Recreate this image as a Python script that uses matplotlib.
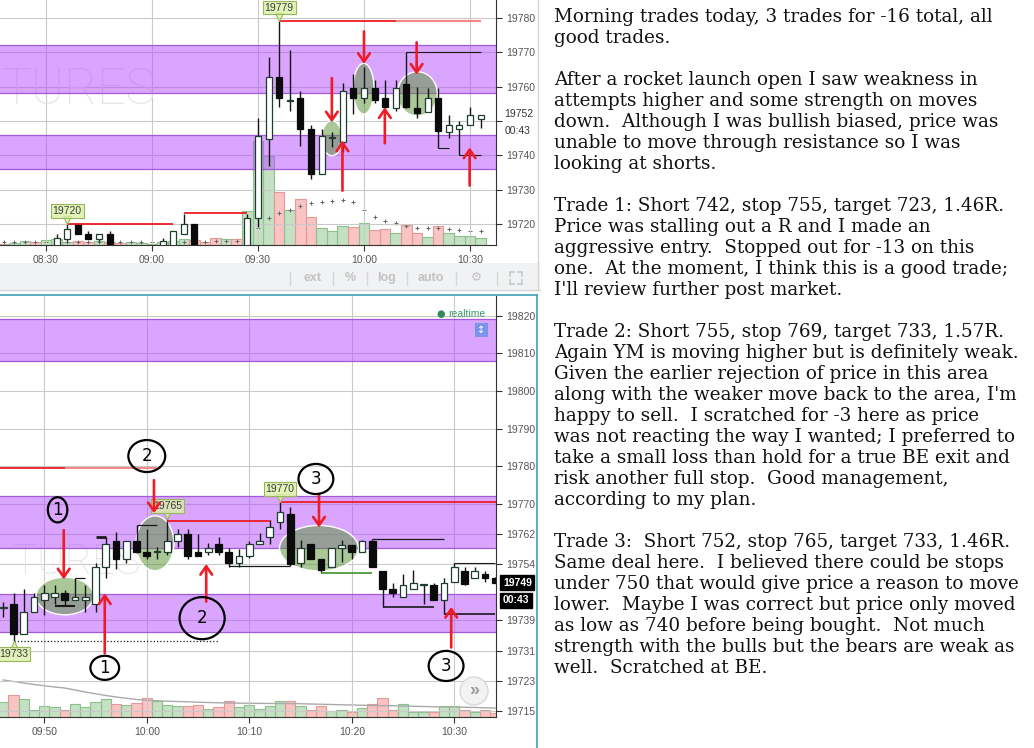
import matplotlib
matplotlib.use("Agg")
import matplotlib.pyplot as plt
import numpy as np
from matplotlib import transforms
from matplotlib.lines import Line2D
from matplotlib.patches import Ellipse, Rectangle

plt.rcParams["font.family"] = ["Liberation Sans", "DejaVu Sans"]

# ---------------- values ----------------
# top chart: 3 min bars (only the ones inside the visible price range)
top_times = ["08:33", "08:36", "08:39", "08:42", "08:45", "08:48", "09:03", "09:06", "09:09", "09:12", "09:27",
             "09:30", "09:33", "09:36", "09:39", "09:42", "09:45", "09:48", "09:51", "09:54", "09:57",
             "10:00", "10:03", "10:06", "10:09", "10:12", "10:15", "10:18", "10:21", "10:24", "10:27", "10:30", "10:33"]
top_open = [19712.0, 19715.7, 19719.9, 19717.0, 19715.7, 19717.0, 19713.0, 19712.0, 19717.0, 19720.0, 19712.0,
            19721.7, 19744.8, 19762.8, 19755.9, 19756.7, 19747.7, 19734.6, 19745.0, 19744.0, 19759.6,
            19756.7, 19759.6, 19756.7, 19753.8, 19760.9, 19753.8, 19752.5, 19756.7, 19746.7, 19747.7, 19748.8, 19750.6]
top_high = [19717.0, 19720.0, 19720.0, 19718.0, 19717.0, 19718.0, 19716.0, 19718.0, 19723.0, 19720.0, 19723.0,
            19750.9, 19768.7, 19779.0, 19770.7, 19758.8, 19748.9, 19747.7, 19746.7, 19761.0, 19763.8,
            19765.8, 19761.8, 19761.8, 19761.8, 19770.1, 19759.8, 19759.6, 19759.6, 19751.8, 19749.9, 19754.0, 19751.8]
top_low = [19711.0, 19715.1, 19717.0, 19715.7, 19715.1, 19711.0, 19712.0, 19711.0, 19717.0, 19711.0, 19711.0,
           19719.0, 19736.8, 19754.0, 19752.8, 19742.8, 19733.1, 19734.6, 19742.3, 19740.9, 19752.1,
           19755.1, 19755.2, 19753.9, 19753.0, 19753.8, 19751.0, 19752.5, 19742.1, 19745.0, 19740.0, 19748.8, 19748.0]
top_close = [19715.8, 19718.6, 19717.0, 19715.7, 19717.0, 19712.0, 19714.9, 19718.0, 19720.0, 19712.0, 19721.7,
             19745.7, 19762.8, 19756.7, 19756.1, 19747.7, 19734.6, 19745.7, 19745.2, 19758.8, 19756.8,
             19759.7, 19756.0, 19754.1, 19759.7, 19754.1, 19752.2, 19756.8, 19747.0, 19748.8, 19748.8, 19751.8, 19751.8]

top_vol_times = ["08:18", "08:21", "08:24", "08:27", "08:30", "08:33", "08:36", "08:39", "08:42", "08:45", "08:48",
                 "08:51", "08:54", "08:57", "09:00", "09:03", "09:06", "09:09", "09:12", "09:15", "09:18", "09:21",
                 "09:24", "09:27", "09:30", "09:33", "09:36", "09:39", "09:42", "09:45", "09:48", "09:51", "09:54",
                 "09:57", "10:00", "10:03", "10:06", "10:09", "10:12", "10:15", "10:18", "10:21", "10:24", "10:27",
                 "10:30", "10:33"]
top_vol = [30, 90, 160, 130, 200, 230, 130, 170, 130, 170, 130,
           70, 110, 90, 40, 110, 150, 240, 200, 130, 280, 240,
           230, 1360, 4160, 3560, 2120, 1400, 1840, 1120, 680, 560, 760,
           720, 880, 600, 640, 480, 800, 480, 320, 760, 480, 360,
           360, 280]
top_vol_up = [0, 1, 1, 0, 1, 1, 1, 0, 0, 1, 0,
              0, 1, 1, 1, 1, 1, 1, 0, 0, 0, 1,
              0, 1, 1, 1, 0, 1, 0, 0, 1, 1, 1,
              0, 1, 0, 0, 1, 0, 0, 1, 0, 1, 1,
              1, 1]
top_vol_ma = [110, 110, 120, 120, 130, 130, 130, 140, 140, 140, 140,
              130, 130, 130, 120, 120, 130, 140, 140, 140, 150, 160,
              160, 330, 690, 1070, 1270, 1400, 1560, 1690, 1730, 1760, 1800,
              1730, 1400, 1110, 960, 890, 760, 690, 670, 670, 630, 600,
              570, 560]

# bottom chart: 1 min bars
bot_times = ["09:46", "09:47", "09:48", "09:49", "09:50", "09:51", "09:52", "09:53", "09:54", "09:55", "09:56",
             "09:57", "09:58", "09:59", "10:00", "10:01", "10:02", "10:03", "10:04", "10:05", "10:06", "10:07",
             "10:08", "10:09", "10:10", "10:11", "10:12", "10:13", "10:14", "10:15", "10:16", "10:17", "10:18",
             "10:19", "10:20", "10:21", "10:22", "10:23", "10:24", "10:25", "10:26", "10:27", "10:28", "10:29",
             "10:30", "10:31", "10:32", "10:33", "10:34"]
bot_open = [19742.2, 19743.3, 19735.4, 19741.2, 19744.4, 19745.3, 19746.2, 19744.4, 19744.4, 19743.3, 19753.1,
            19760.2, 19755.2, 19760.2, 19757.1, 19757.1, 19757.1, 19760.2, 19762.1, 19757.1, 19757.1, 19759.2,
            19757.1, 19754.2, 19756.2, 19759.2, 19761.1, 19765.1, 19767.2, 19754.2, 19759.2, 19755.2, 19753.1,
            19758.2, 19759.0, 19757.1, 19760.2, 19752.2, 19747.3, 19745.1, 19747.3, 19748.4, 19748.4, 19744.4,
            19749.1, 19752.2, 19750.2, 19751.3, 19750.2]
bot_high = [19744.0, 19746.2, 19747.3, 19746.4, 19748.4, 19748.4, 19747.2, 19750.4, 19748.4, 19754.3, 19761.3,
            19762.5, 19760.2, 19764.3, 19763.4, 19758.6, 19765.9, 19763.2, 19763.2, 19762.1, 19759.7, 19761.2,
            19758.2, 19758.0, 19760.2, 19762.3, 19765.7, 19770.4, 19769.1, 19760.4, 19759.2, 19755.2, 19758.2,
            19760.4, 19759.0, 19760.4, 19760.6, 19752.2, 19749.0, 19751.3, 19752.3, 19748.8, 19749.0, 19750.2,
            19754.3, 19753.1, 19753.1, 19752.2, 19750.6]
bot_low = [19740.0, 19733.6, 19735.4, 19741.2, 19740.4, 19743.5, 19742.8, 19744.4, 19741.3, 19741.3, 19750.3,
           19752.8, 19754.3, 19757.0, 19755.2, 19755.4, 19756.5, 19758.6, 19755.2, 19756.2, 19756.4, 19756.4,
           19753.3, 19753.3, 19755.5, 19759.2, 19759.3, 19763.3, 19753.5, 19753.3, 19755.2, 19751.5, 19753.1,
           19754.6, 19755.4, 19757.1, 19753.1, 19742.6, 19745.3, 19745.1, 19747.3, 19743.5, 19744.4, 19740.7,
           19749.1, 19748.4, 19750.2, 19749.3, 19749.0]
bot_close = [19742.2, 19735.4, 19741.2, 19745.1, 19746.2, 19746.2, 19744.4, 19745.1, 19745.1, 19753.3, 19759.2,
             19755.2, 19760.2, 19757.1, 19756.2, 19757.1, 19760.2, 19762.1, 19756.2, 19756.2, 19758.2, 19757.1,
             19754.2, 19756.2, 19759.2, 19760.2, 19763.9, 19767.9, 19754.0, 19758.2, 19755.2, 19752.4, 19758.2,
             19759.0, 19757.1, 19760.2, 19753.1, 19747.3, 19746.2, 19748.4, 19749.0, 19748.4, 19744.4, 19749.0,
             19753.1, 19748.8, 19752.2, 19750.2, 19749.0]
bot_vol = [590, 890, 720, 270, 450, 400, 270, 530, 400, 590, 720,
           530, 490, 560, 760, 630, 490, 450, 430, 490, 320, 400,
           650, 420, 490, 320, 450, 650, 650, 430, 270, 430, 230,
           290, 200, 360, 520, 760, 290, 530, 200, 200, 200, 450,
           450, 270, 200, 270, 160]
bot_vol_up = [1, 0, 1, 1, 1, 1, 0, 1, 1, 1, 1,
              0, 1, 0, 0, 1, 1, 1, 0, 0, 1, 0,
              0, 1, 1, 1, 1, 1, 0, 1, 0, 0, 1,
              1, 0, 1, 0, 0, 0, 1, 1, 1, 0, 1,
              1, 0, 1, 0, 0]
bot_vol_ma = [1480, 1420, 1360, 1300, 1250, 1200, 1160, 1080, 1000, 930, 860,
              800, 750, 700, 670, 650, 630, 620, 610, 590, 580, 570,
              560, 555, 550, 545, 540, 540, 535, 530, 520, 510, 500,
              490, 480, 470, 460, 455, 450, 440, 430, 420, 410, 400,
              395, 390, 380, 370, 360]

# purple supply / demand zones
band_lo = [19736.0, 19758.2, 19808.0]
band_hi = [19746.0, 19772.2, 19819.0]

# axis ticks
top_xticks = ["08:30", "09:00", "09:30", "10:00", "10:30"]
top_yticks = [19720, 19730, 19740, 19750, 19760, 19770, 19780]
top_ylabels = ["19720", "19730", "19740", "", "19760", "19770", "19780"]
bot_xticks = ["09:50", "10:00", "10:10", "10:20", "10:30"]
bot_yticks = [19715, 19723, 19731, 19739, 19754, 19762, 19770, 19780, 19790, 19800, 19810, 19820]

# drawn levels: start, end, price, colour, width, style
top_levels = [("08:36", "09:06", 19720.0, "red", 1.3, "-"),
              ("09:09", "09:27", 19723.3, "red", 1.3, "-"),
              ("09:36", "10:09", 19779.2, "red", 1.3, "-"),
              ("10:09", "10:33", 19779.2, "pink", 1.5, "-"),
              ("10:12", "10:33", 19770.0, "black", 0.8, "-"),
              ("10:21", "10:24", 19742.1, "black", 0.8, "-"),
              ("10:27", "10:33", 19740.0, "black", 0.8, "-")]
bot_levels = [("09:45", "09:52", 19779.4, "red", 1.3, "-"),
              ("09:52", "10:01", 19779.4, "pink", 1.5, "-"),
              ("10:02", "10:12", 19765.4, "red", 1.3, "-"),
              ("10:13", "10:35", 19770.4, "red", 1.3, "-"),
              ("09:47", "10:07", 19733.6, "black", 0.9, ":"),
              ("10:08", "10:14", 19753.5, "black", 0.9, "-"),
              ("09:51", "09:53", 19742.8, "black", 1.5, "-"),
              ("09:53", "09:54", 19750.4, "black", 0.9, "-"),
              ("09:55", "09:56", 19761.1, "black", 2.0, "-"),
              ("09:59", "10:01", 19764.3, "black", 0.9, "-"),
              ("10:17", "10:22", 19751.5, "green", 1.3, "-"),
              ("10:22", "10:29", 19760.6, "black", 0.9, "-"),
              ("10:23", "10:28", 19742.6, "black", 1.2, "-"),
              ("10:29", "10:34", 19740.7, "black", 1.2, "-"),
              ("10:30", "10:34", 19754.3, "black", 0.8, "-")]

# highlighted areas: centre time, centre price, width (min), height (points)
top_zones = [("09:50.9", 19745.0, 5.7, 10.2), ("09:59.9", 19759.4, 5.9, 14.8), ("10:15.1", 19757.9, 11.3, 12.9)]
bot_zones = [("09:52", 19745.5, 5.6, 10.0), ("10:00.8", 19759.5, 3.7, 14.6), ("10:16.8", 19758.2, 7.7, 12.1)]

# red arrows: time, tail price, head price
top_arrows = [("09:50.9", 19762.5, 19749.6), ("09:53.9", 19729.7, 19744.3), ("10:00", 19776.1, 19766.6),
              ("10:05.9", 19743.5, 19754.0), ("10:14.9", 19772.9, 19763.5), ("10:29.9", 19731.2, 19742.3)]
bot_arrows = [("09:51.9", 19763.0, 19749.9), ("09:55.9", 19730.3, 19746.2), ("10:00.7", 19776.3, 19767.5),
              ("10:05.8", 19744.0, 19754.0), ("10:16.8", 19772.6, 19763.7), ("10:29.7", 19731.8, 19742.6)]

# hand drawn trade numbers: digit, time, price, width, height
bot_marks = [("1", "09:51.3", 19768.4, 1.9, 6.7), ("1", "09:55.9", 19726.4, 2.8, 6.4),
             ("2", "10:00", 19782.7, 3.6, 8.5), ("2", "10:05.4", 19739.6, 4.4, 11.2),
             ("3", "10:16.5", 19776.6, 3.4, 8.0), ("3", "10:29.2", 19726.9, 3.4, 8.0)]

# high / low flags
top_flags = [("19779", "09:36", 19779.2, "down"), ("19720", "08:36", 19720.0, "down")]
bot_flags = [("19733", "09:47", 19733.6, "up"), ("19765", "10:02", 19765.9, "down"), ("19770", "10:13", 19770.4, "down")]

text_lines = [
    "Morning trades today, 3 trades for -16 total, all",
    "good trades.",
    "",
    "After a rocket launch open I saw weakness in",
    "attempts higher and some strength on moves",
    "down.  Although I was bullish biased, price was",
    "unable to move through resistance so I was",
    "looking at shorts.",
    "",
    "Trade 1: Short 742, stop 755, target 723, 1.46R.",
    "Price was stalling out a R and I made an",
    "aggressive entry.  Stopped out for -13 on this",
    "one.  At the moment, I think this is a good trade;",
    "I'll review further post market.",
    "",
    "Trade 2: Short 755, stop 769, target 733, 1.57R.",
    "Again YM is moving higher but is definitely weak.",
    "Given the earlier rejection of price in this area",
    "along with the weaker move back to the area, I'm",
    "happy to sell.  I scratched for -3 here as price",
    "was not reacting the way I wanted; I preferred to",
    "take a small loss than hold for a true BE exit and",
    "risk another full stop.  Good management,",
    "according to my plan.",
    "",
    "Trade 3:  Short 752, stop 765, target 733, 1.46R.",
    "Same deal here.  I believed there could be stops",
    "under 750 that would give price a reason to move",
    "lower.  Maybe I was correct but price only moved",
    "as low as 740 before being bought.  Not much",
    "strength with the bulls but the bears are weak as",
    "well.  Scratched at BE.",
]

# ---------------- styling ----------------
W, H = 1034, 748
COLORS = {"red": "#ec1c24", "pink": "#f4878a", "black": "#1a1a1a", "green": "#4f9a3a"}
ARROW = "#ee1c25"
GRID = "#c9c9c9"
FLAG_FC = (0.86, 0.94, 0.66, 0.8)


def tmin(s):
    h, m = s.split(":")
    return int(h) * 60 + float(m)


def px_rect(x0, y0, x1, y1):
    return [x0 / W, 1 - y1 / H, (x1 - x0) / W, (y1 - y0) / H]


def fx(x):
    return x / W


def fy(y):
    return 1 - y / H


def price_axes(rect, xlim, ylim, vmax):
    # volume lives in its own axes behind the price axes
    axv = fig.add_axes(rect)
    axv.set_xlim(xlim)
    axv.set_ylim(0, vmax)
    axv.set_axis_off()
    ax = fig.add_axes(rect)
    ax.patch.set_visible(False)
    ax.set_xlim(xlim)
    ax.set_ylim(ylim)
    ax.spines["top"].set_visible(False)
    ax.spines["left"].set_visible(False)
    ax.spines["right"].set_color("#333333")
    ax.spines["bottom"].set_color("#333333")
    ax.yaxis.tick_right()
    ax.tick_params(axis="both", labelsize=7.5, labelcolor="#555555", color="#333333", length=4, pad=3)
    ax.grid(True, color=GRID, lw=0.8)
    ax.set_axisbelow(True)
    for lo, hi in zip(band_lo, band_hi):
        ax.axhspan(lo, hi, fc="#b44dff", alpha=0.5, ec="none", zorder=1)
        ax.axhline(lo, color="#a35ad6", lw=0.9, zorder=1.1)
        ax.axhline(hi, color="#a35ad6", lw=0.9, zorder=1.1)
    return ax, axv


def volume(axv, times, vol, up, width):
    x = [tmin(t) for t in times]
    fc = [(0.45, 0.72, 0.45, 0.42) if u else (0.96, 0.45, 0.45, 0.42) for u in up]
    ec = ["#8cc08c" if u else "#e59a9a" for u in up]
    axv.bar(x, vol, width, color=fc, edgecolor=ec, lw=0.8)


def candles(ax, times, o, h, l, c, width):
    x = np.array([tmin(t) for t in times])
    o, h, l, c = (np.asarray(v) for v in (o, h, l, c))
    ax.vlines(x, l, h, color="#151515", lw=1, zorder=4)
    up = c >= o
    body = np.maximum(np.abs(c - o), 0.3)
    bottom = np.minimum(o, c)
    ax.bar(x[up], body[up], width, bottom[up], color="white", edgecolor="#1f3d2e", lw=0.9, zorder=5)
    ax.bar(x[~up], body[~up], width, bottom[~up], color="#0b0b0b", edgecolor="#0b0b0b", lw=0.9, zorder=5)


def levels(ax, rows):
    for t0, t1, p, col, lw, ls in rows:
        ax.plot([tmin(t0), tmin(t1)], [p, p], color=COLORS[col], lw=lw, ls=ls, zorder=6, solid_capstyle="butt")


def zones(ax, rows):
    for t, p, w, h in rows:
        ax.add_patch(Ellipse((tmin(t), p), w, h, fc=(0.36, 0.59, 0.22, 0.52), ec="white", lw=1, zorder=3))


def arrows(ax, rows):
    for t, tail, head in rows:
        ax.annotate("", xy=(tmin(t), head), xytext=(tmin(t), tail),
                    arrowprops=dict(arrowstyle="->,head_length=0.6,head_width=0.42", color=ARROW, lw=1.9,
                                    shrinkA=0, shrinkB=0), zorder=8)


def flags(ax, rows):
    for label, t, p, side in rows:
        sgn = 1 if side == "down" else -1
        tri = transforms.offset_copy(ax.transData, fig=fig, x=0, y=sgn * 4, units="dots")
        ax.plot(tmin(t), p, marker="v" if side == "down" else "^", ms=6, mfc=FLAG_FC, mec="#96b85a",
                mew=0.8, transform=tri, zorder=7, clip_on=False)
        ax.annotate(label, (tmin(t), p), xytext=(0, sgn * 9.5), textcoords="offset points", ha="center",
                    va="center", fontsize=7.5, color="#3d3d3d", zorder=7, annotation_clip=False,
                    bbox=dict(boxstyle="square,pad=0.18", fc=FLAG_FC, ec="#96b85a", lw=0.8))


fig = plt.figure(figsize=(W / 100, H / 100), dpi=100)

# ---------------- top chart ----------------
ax1, av1 = price_axes(px_rect(0, 0, 496, 245), (496.98, 637.36), (19713.88, 19785.24), 9800)
ax1.text(2 / 496, 0.633, "TURES", transform=ax1.transAxes, ha="left", va="center", fontsize=36,
         family="Roboto", fontweight="light", color="#e6e6e8", zorder=0.6)
volume(av1, top_vol_times, top_vol, top_vol_up, 3)
av1.plot([tmin(t) for t in top_vol_times], top_vol_ma, "+", ms=3, mew=0.7, color="#666666")
zones(ax1, top_zones)
candles(ax1, top_times, top_open, top_high, top_low, top_close, 1.7)
levels(ax1, top_levels)
arrows(ax1, top_arrows)
flags(ax1, top_flags)
ax1.set_xticks([tmin(t) for t in top_xticks])
ax1.set_xticklabels(top_xticks)
ax1.set_yticks(top_yticks)
ax1.set_yticklabels(top_ylabels)
yt1 = ax1.get_yaxis_transform()
ax1.annotate("19752", (1, 19752), xycoords=yt1, xytext=(6, 0), textcoords="offset points", ha="left",
             va="center", fontsize=7.5, color="#333333", annotation_clip=False)
ax1.annotate("00:43", (1, 19752), xycoords=yt1, xytext=(6, -12), textcoords="offset points", ha="left",
             va="center", fontsize=7.5, color="#333333", annotation_clip=False)

# ---------------- bottom chart ----------------
ax2, av2 = price_axes(px_rect(0, 296, 496, 717), (585.68, 634.07), (19713.33, 19825.24), 16840)
ax2.text(13 / 496, 0.368, "TURES", transform=ax2.transAxes, ha="left", va="center", fontsize=30,
         family="Roboto", fontweight="light", color="#e6e6e8", zorder=0.6)
volume(av2, bot_times, bot_vol, bot_vol_up, 1)
av2.plot([tmin(t) for t in bot_times], bot_vol_ma, color="#aaaaaa", lw=1)
zones(ax2, bot_zones)
candles(ax2, bot_times, bot_open, bot_high, bot_low, bot_close, 0.65)
levels(ax2, bot_levels)
arrows(ax2, bot_arrows)
flags(ax2, bot_flags)
for digit, t, p, w, h in bot_marks:
    ax2.add_patch(Ellipse((tmin(t), p), w, h, fill=False, ec="black", lw=1.6, zorder=9))
    ax2.text(tmin(t), p, digit, ha="center", va="center", fontsize=12, family="DejaVu Sans", zorder=9)
ax2.set_xticks([tmin(t) for t in bot_xticks])
ax2.set_xticklabels(bot_xticks)
ax2.set_yticks(bot_yticks)
ax2.set_yticklabels([str(v) for v in bot_yticks])
yt2 = ax2.get_yaxis_transform()
for txt, dy in (("19749", 0), ("00:43", -12.5)):
    ax2.annotate(txt, (1, 19749), xycoords=yt2, xytext=(5, dy), textcoords="offset points", ha="left",
                 va="center", fontsize=7.5, color="white", fontweight="bold", annotation_clip=False,
                 bbox=dict(boxstyle="square,pad=0.25", fc="black", ec="black"))

# ---------------- chrome around the charts ----------------
fig.add_artist(Rectangle((0, fy(290)), fx(540), 27 / H, transform=fig.transFigure, fc="#f1f2f4", ec="none"))
fig.add_artist(Line2D([0, fx(540)], [fy(290), fy(290)], color="#d6d6d6", lw=1))
fig.add_artist(Line2D([fx(538), fx(538)], [fy(0), fy(290)], color="#d4d4d4", lw=1))
for sx in [290, 333, 367, 407, 456, 497]:
    fig.add_artist(Line2D([fx(sx), fx(sx)], [fy(272), fy(285)], color="#d6d6d6", lw=1))
for lbl, sx in [("ext", 312), ("%", 350), ("log", 387), ("auto", 431), ("\u2699", 476)]:
    fig.text(fx(sx), fy(278), lbl, ha="center", va="center", fontsize=9, color="#c2c2c2", fontweight="bold")
for cx, cy, dx, dy in [(510, 272, 1, 1), (522, 272, -1, 1), (510, 284, 1, -1), (522, 284, -1, -1)]:
    fig.add_artist(Line2D([fx(cx), fx(cx + 4 * dx)], [fy(cy), fy(cy)], color="#c8c8c8", lw=1.2))
    fig.add_artist(Line2D([fx(cx), fx(cx)], [fy(cy), fy(cy + 4 * dy)], color="#c8c8c8", lw=1.2))
fig.add_artist(Line2D([0, fx(537)], [fy(295), fy(295)], color="#3d9fb5", lw=1.2))
fig.add_artist(Line2D([fx(537), fx(537)], [fy(295), fy(748)], color="#3d9fb5", lw=1.2))

fig.text(fx(441), fy(314), "\u25cf", ha="center", va="center", fontsize=7, color="#2e8b57", family="DejaVu Sans")
fig.text(fx(448), fy(314), "realtime", ha="left", va="center", fontsize=7.5, color="#3c9a6c")
fig.add_artist(Rectangle((fx(475), fy(337)), 13 / W, 14 / H, transform=fig.transFigure, fc="#7b93e8",
                         ec="none", zorder=5))
fig.text(fx(481.5), fy(330), "\u2195", ha="center", va="center", fontsize=7, color="white",
         family="DejaVu Sans", zorder=6)
fig.add_artist(Ellipse((fx(474), fy(691)), 28 / W, 28 / H, transform=fig.transFigure, fc="#f2f2f2",
                       ec="#d9d9d9", lw=1, zorder=5))
fig.text(fx(474), fy(691), "\u00bb", ha="center", va="center", fontsize=13, color="#9a9a9a",
         fontweight="bold", zorder=6)

# ---------------- notes on the right ----------------
renderer = fig.canvas.get_renderer()
probe = fig.text(0, 0, text_lines[0], fontsize=12, family="DejaVu Serif")
fs = 12 * 438 / probe.get_window_extent(renderer).width
probe.remove()
for i, line in enumerate(text_lines):
    if line:
        fig.text(fx(554), fy(17 + 21 * i), line, fontsize=fs, family="DejaVu Serif", ha="left", va="center",
                 color="#111111")

fig.savefig("out.png", dpi=100)
